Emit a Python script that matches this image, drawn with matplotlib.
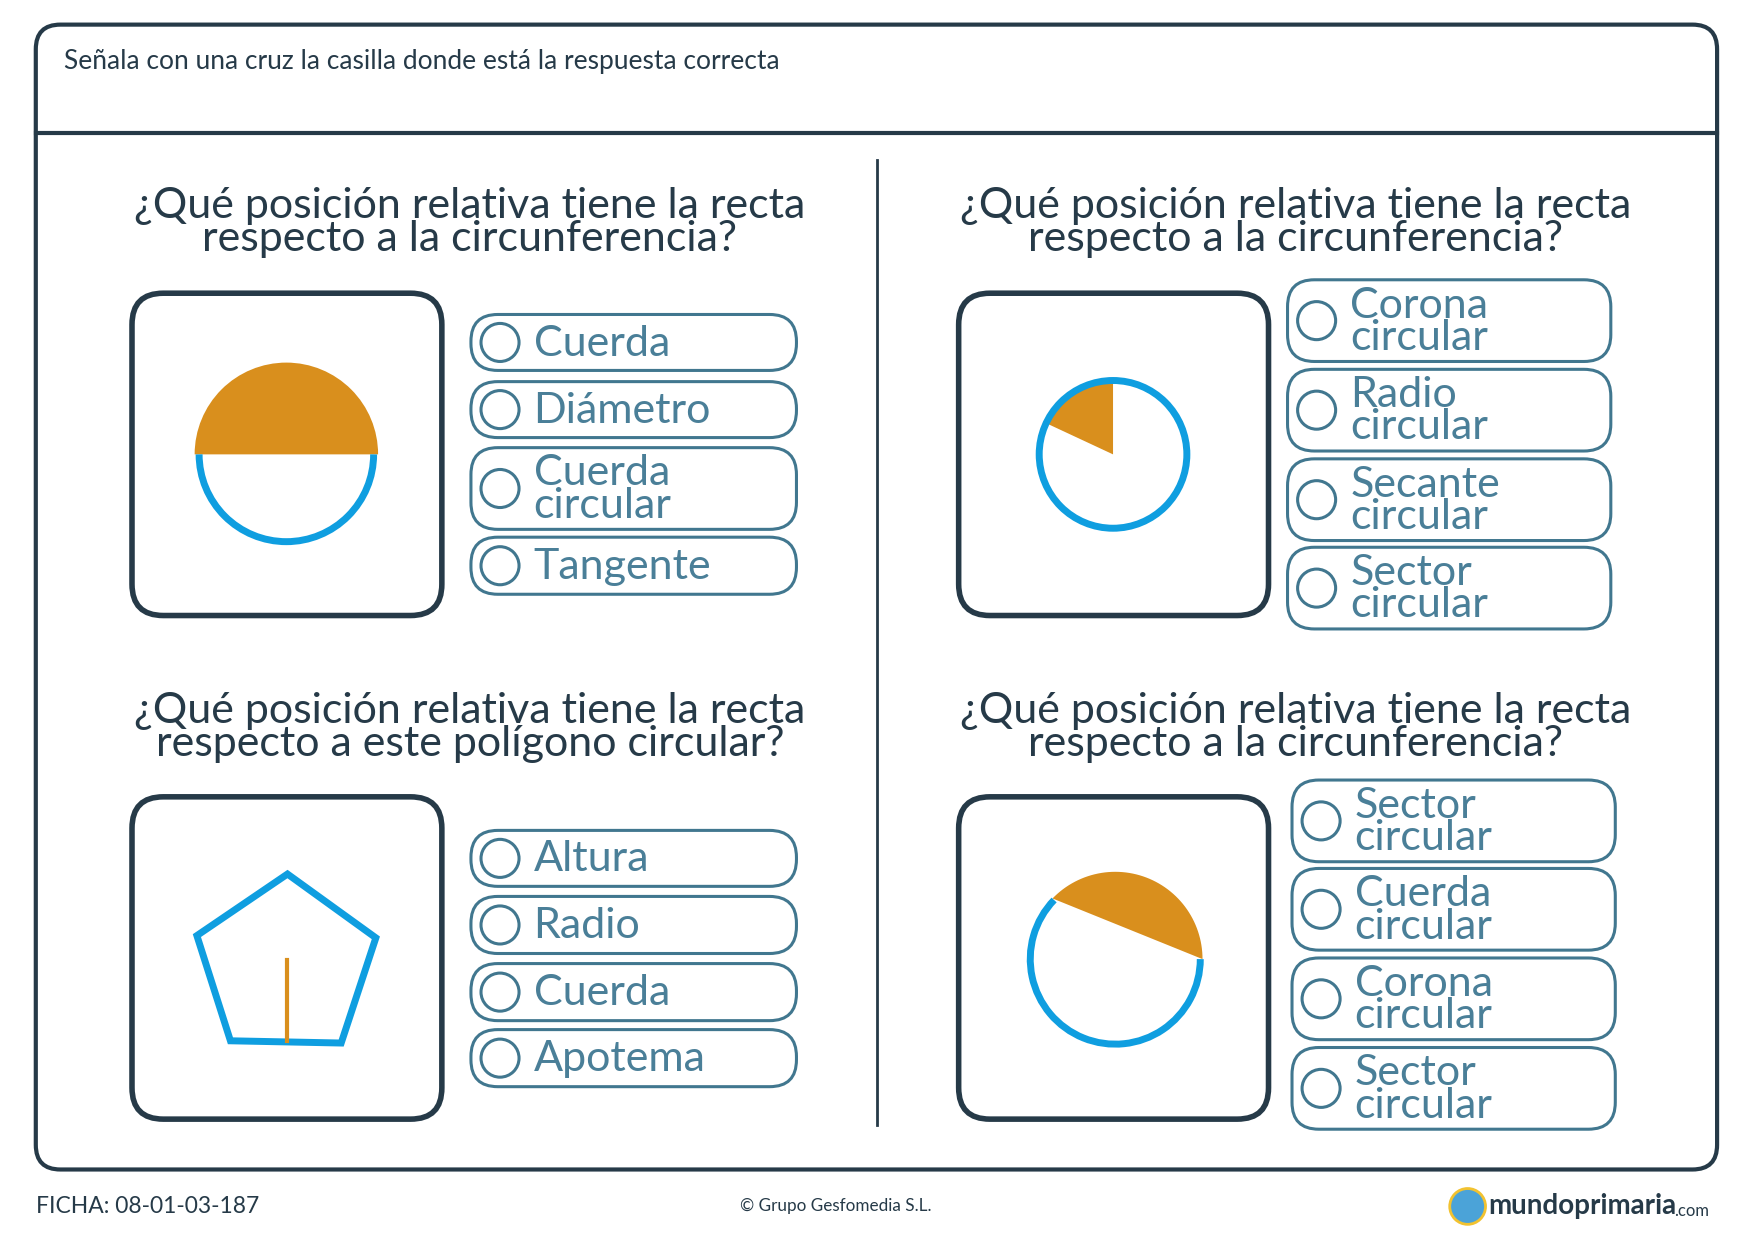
import matplotlib
matplotlib.use("Agg")
import matplotlib.pyplot as plt
import numpy as np
from matplotlib.patches import FancyBboxPatch, Circle, Wedge, Polygon, Arc

INK = "#263a48"
TEAL = "#41778f"
TEXT_T = "#4a7f98"
ORANGE = "#d98f1d"
BLUE = "#0f9ee0"

plt.rcParams["font.family"] = "Lato"

HEADER = "Señala con una cruz la casilla donde está la respuesta correcta"
QUESTIONS = [
    "¿Qué posición relativa tiene la recta\nrespecto a la circunferencia?",
    "¿Qué posición relativa tiene la recta\nrespecto a la circunferencia?",
    "¿Qué posición relativa tiene la recta\nrespecto a este polígono circular?",
    "¿Qué posición relativa tiene la recta\nrespecto a la circunferencia?",
]
OPTIONS_TL = ["Cuerda", "Diámetro", "Cuerda\ncircular", "Tangente"]
OPTIONS_TR = ["Corona\ncircular", "Radio\ncircular", "Secante\ncircular", "Sector\ncircular"]
OPTIONS_BL = ["Altura", "Radio", "Cuerda", "Apotema"]
OPTIONS_BR = ["Sector\ncircular", "Cuerda\ncircular", "Corona\ncircular", "Sector\ncircular"]

fig = plt.figure(figsize=(17.54, 12.40), dpi=100)
ax = fig.add_axes([0, 0, 1, 1])
ax.set_xlim(0, 1568)
ax.set_ylim(1108, 0)
ax.axis("off")


def rbox(x0, y0, x1, y1, r, ec, lw, fc="none"):
    ax.add_patch(FancyBboxPatch((x0 + r, y0 + r), x1 - x0 - 2 * r, y1 - y0 - 2 * r,
                                boxstyle=f"round,pad={r}", ec=ec, fc=fc, lw=lw))


# frame
rbox(32, 22, 1535, 1045, 22, INK, 3)
ax.plot([32, 1535], [119, 119], color=INK, lw=3)
ax.plot([784, 784], [143, 1005], color=INK, lw=2)
ax.text(57, 55, HEADER, fontsize=19, color=INK, va="center", ha="left")

# questions
for (cx, cy), q in zip([(420, 199), (1158, 199), (420, 650), (1158, 650)], QUESTIONS):
    ax.text(cx, cy, q, fontsize=31, color=INK, ha="center", va="center", linespacing=0.82)

# picture boxes
for x0, y0 in [(118, 262), (857, 262), (118, 712), (857, 712)]:
    rbox(x0, y0, x0 + 277, y0 + 288, 28, INK, 4)


def options(x0, x1, spans, labels):
    for (y0, y1), lab in zip(spans, labels):
        rbox(x0, y0, x1, y1, 24, TEAL, 2.2)
        cy = (y0 + y1) / 2
        ax.add_patch(Circle((x0 + 26, cy), 17, fc="none", ec=TEAL, lw=2.2))
        ax.text(x0 + 56, cy + 1, lab, fontsize=31, color=TEXT_T, ha="left",
                va="center", linespacing=0.82)


options(421, 712, [(281, 331), (341, 391), (400, 473), (480, 531)], OPTIONS_TL)
options(1151, 1440, [(250, 323), (330, 403), (410, 483), (489, 562)], OPTIONS_TR)
options(421, 712, [(742, 792), (801, 852), (861, 912), (920, 971)], OPTIONS_BL)
options(1155, 1444, [(697, 770), (776, 849), (856, 929), (936, 1009)], OPTIONS_BR)

# TL: semicircle (y axis inverted -> angles flip)
ax.add_patch(Wedge((256, 406), 82, 180, 360, fc=ORANGE, ec="none"))
ax.add_patch(Arc((256, 406), 156, 156, theta1=0, theta2=180, color=BLUE, lw=5))

# TR: sector in ring
ax.add_patch(Wedge((995, 406), 64, 205, 270, fc=ORANGE, ec="none"))
ax.add_patch(Circle((995, 406), 66, fc="none", ec=BLUE, lw=5))

# BL: pentagon with apothem
ax.add_patch(Polygon([(257, 781), (336, 838), (305, 932), (206, 930), (176, 836)],
                     closed=True, fc="none", ec=BLUE, lw=5, joinstyle="miter"))
ax.plot([257, 257], [858, 930], color=ORANGE, lw=3)

# BR: circular segment
c, r = (997, 857), 78
t = np.radians(np.linspace(0, 136, 60))
pts = [(c[0] + r * np.cos(a), c[1] - r * np.sin(a)) for a in t]
ax.add_patch(Polygon(pts, closed=True, fc=ORANGE, ec="none"))
ax.add_patch(Arc(c, 2 * (r - 2), 2 * (r - 2), theta1=0, theta2=224, color=BLUE, lw=5))

# footer
ax.text(32, 1078, "FICHA: 08-01-03-187", fontsize=16.5, color=INK, va="center")
ax.text(747, 1078, "© Grupo Gesfomedia S.L.", fontsize=12.3, color=INK, ha="center", va="center")
ax.add_patch(Circle((1312, 1078), 16, fc="#4ba3d8", ec="#f2c230", lw=2))
ax.text(1330, 1078, "mundoprimaria", fontsize=20, fontweight="bold", color=INK, va="center")
ax.text(1497, 1082, ".com", fontsize=12, color=INK, va="center")

fig.savefig("out.png", dpi=100, facecolor="white")
